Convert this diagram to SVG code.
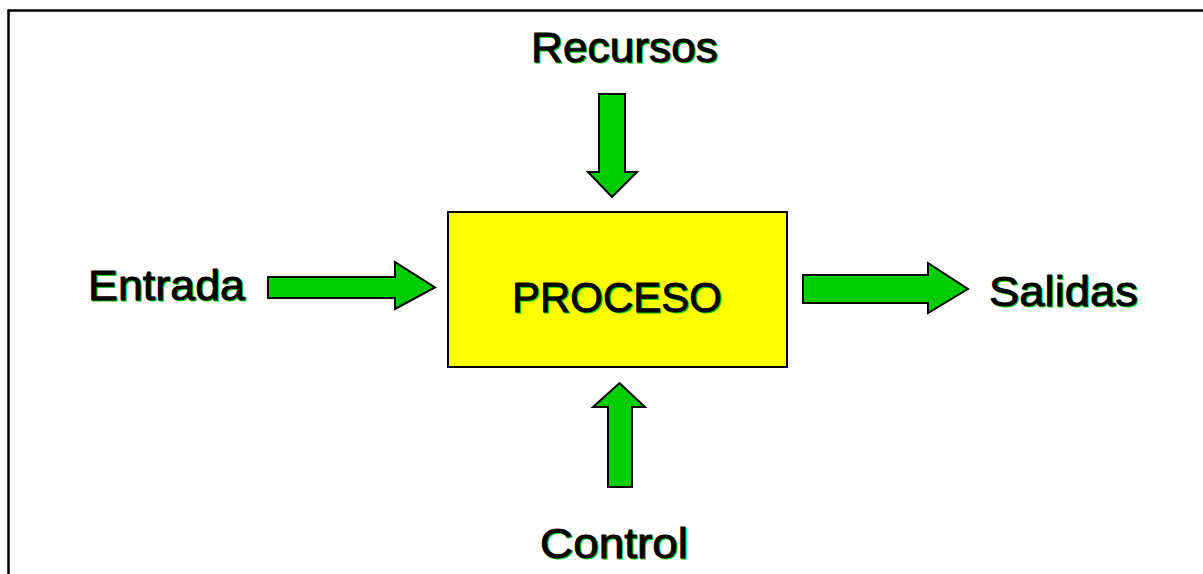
<svg xmlns="http://www.w3.org/2000/svg" width="1203" height="574" viewBox="0 0 1203 574">
<style>
.lbl{font-family:"Liberation Sans",Arial,sans-serif;font-size:42px;fill:#000;stroke:#000;stroke-width:0.9;}
.sh{font-family:"Liberation Sans",Arial,sans-serif;font-size:42px;fill:#00cc00;stroke:#00cc00;stroke-width:0.9;}
.arr{fill:#00cc00;stroke:#000;stroke-width:2;stroke-linejoin:miter;}
</style>
<rect x="0" y="0" width="1203" height="574" fill="#fff"/>
<path d="M8.5,574 V10.5 H1203" fill="none" stroke="#000" stroke-width="2.5"/>
<g id="proceso">
<rect x="448" y="212" width="339" height="155" fill="#ffff00" stroke="#000" stroke-width="2"/>
<text class="sh" x="513" y="313" textLength="210" lengthAdjust="spacingAndGlyphs">PROCESO</text>
<text class="lbl" x="512" y="312" textLength="210" lengthAdjust="spacingAndGlyphs">PROCESO</text>
</g>
<g id="recursos">
<text class="sh" x="532" y="63" textLength="187" lengthAdjust="spacingAndGlyphs">Recursos</text>
<text class="lbl" x="531" y="62" textLength="187" lengthAdjust="spacingAndGlyphs">Recursos</text>
</g>
<g id="entrada">
<text class="sh" x="89" y="301" textLength="157" lengthAdjust="spacingAndGlyphs">Entrada</text>
<text class="lbl" x="88" y="300" textLength="157" lengthAdjust="spacingAndGlyphs">Entrada</text>
</g>
<g id="salidas">
<text class="sh" x="990" y="307" textLength="149" lengthAdjust="spacingAndGlyphs">Salidas</text>
<text class="lbl" x="989" y="306" textLength="149" lengthAdjust="spacingAndGlyphs">Salidas</text>
</g>
<g id="control">
<text class="sh" x="541" y="559" textLength="148" lengthAdjust="spacingAndGlyphs">Control</text>
<text class="lbl" x="540" y="558" textLength="148" lengthAdjust="spacingAndGlyphs">Control</text>
</g>
<g id="connectors">
<polygon class="arr" points="599,94 625,94 625,172 637,172 612,197 588,172 599,172"/>
<polygon class="arr" points="608,487 632,487 632,407 645,407 619.5,383 593,407 608,407"/>
<polygon class="arr" points="268,277 395,277 395,262 435,287.5 395,309 395,298 268,298"/>
<polygon class="arr" points="803,275 928,275 928,263 968,289 928,313 928,303 803,303"/>
</g>
</svg>
